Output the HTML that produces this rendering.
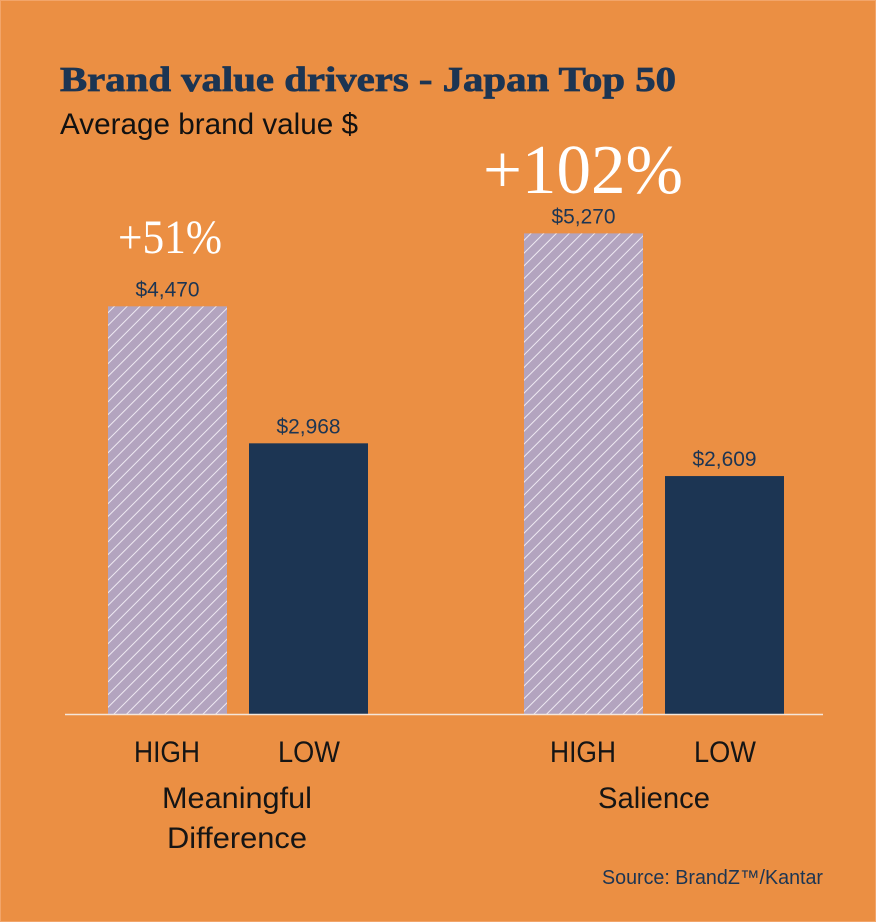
<!DOCTYPE html>
<html><head><meta charset="utf-8"><style>
html,body{margin:0;padding:0;background:#EB8F43;}
svg{display:block;}
</style></head><body>
<svg id="chart" width="876" height="922" xmlns="http://www.w3.org/2000/svg">
<defs>
<pattern id="hatch" patternUnits="userSpaceOnUse" width="9" height="9" patternTransform="rotate(45)">
<rect width="9" height="9" fill="#B3A4BF"/>
<line x1="0" y1="0" x2="0" y2="9" stroke="#EEE9F2" stroke-width="2"/>
</pattern>
</defs>
<rect x="0" y="0" width="876" height="922" fill="#EB8F43"/>
<rect x="0.5" y="0.5" width="875" height="921" fill="none" stroke="#F2A56A" stroke-width="1"/>
<text x="60" y="91" font-family="Liberation Serif, serif" font-weight="bold" font-size="35" fill="#1C3553" stroke="#1C3553" stroke-width="0.8" textLength="616" lengthAdjust="spacingAndGlyphs">Brand value drivers - Japan Top 50</text>
<text x="60" y="134" font-family="Liberation Sans, sans-serif" font-size="30" fill="#111" textLength="298" lengthAdjust="spacingAndGlyphs">Average brand value $</text>
<text x="118" y="253" font-family="Liberation Serif, serif" font-size="48" fill="#fff" textLength="104" lengthAdjust="spacingAndGlyphs">+51%</text>
<text x="483" y="193" font-family="Liberation Serif, serif" font-size="70" fill="#fff" textLength="200" lengthAdjust="spacingAndGlyphs">+102%</text>
<g id="bars"></g>
<line x1="65" y1="714.5" x2="823" y2="714.5" stroke="#F4E6DA" stroke-width="1.5"/>
<g font-family="Liberation Sans, sans-serif" font-size="30" fill="#151515" text-anchor="middle">
<text x="167" y="762" textLength="66" lengthAdjust="spacingAndGlyphs">HIGH</text>
<text x="309" y="762" textLength="62" lengthAdjust="spacingAndGlyphs">LOW</text>
<text x="583" y="762" textLength="66" lengthAdjust="spacingAndGlyphs">HIGH</text>
<text x="725" y="762" textLength="62" lengthAdjust="spacingAndGlyphs">LOW</text>
<text x="237" y="808" textLength="150" lengthAdjust="spacingAndGlyphs">Meaningful</text>
<text x="237" y="848" textLength="140" lengthAdjust="spacingAndGlyphs">Difference</text>
<text x="654" y="808" textLength="112" lengthAdjust="spacingAndGlyphs">Salience</text>
</g>
<text x="823" y="884" text-anchor="end" font-family="Liberation Sans, sans-serif" font-size="20" fill="#1C3553" textLength="221" lengthAdjust="spacingAndGlyphs">Source: BrandZ™/Kantar</text>
</svg>
<script>
const categories = ["Meaningful HIGH","Meaningful LOW","Salience HIGH","Salience LOW"];
const values = [4470, 2968, 5270, 2609];
const valueLabels = ["$4,470","$2,968","$5,270","$2,609"];
const levels = ["high","low","high","low"];

const baseY = 714, scale = 0.0912;
function y(v){ return baseY - v*scale; }
function xPos(i){ return [108,249,524,665][i]; }
const bw = 119;
const g = document.getElementById('bars');
const NS = "http://www.w3.org/2000/svg";
values.forEach((v,i)=>{
  const r = document.createElementNS(NS,'rect');
  r.setAttribute('x', xPos(i));
  r.setAttribute('y', y(v));
  r.setAttribute('width', bw);
  r.setAttribute('height', baseY - y(v));
  r.setAttribute('fill', levels[i]==='high' ? 'url(#hatch)' : '#1C3553');
  
  
  g.appendChild(r);
  const t = document.createElementNS(NS,'text');
  t.setAttribute('x', xPos(i) + bw/2);
  t.setAttribute('y', y(v) - 10);
  t.setAttribute('text-anchor','middle');
  t.setAttribute('font-family','Liberation Sans, sans-serif');
  t.setAttribute('font-size','21');
  t.setAttribute('fill','#1C3553');
  t.setAttribute('textLength','64');
  t.setAttribute('lengthAdjust','spacingAndGlyphs');
  t.textContent = valueLabels[i];
  
  
  g.appendChild(t);
});
</script>
</body></html>
